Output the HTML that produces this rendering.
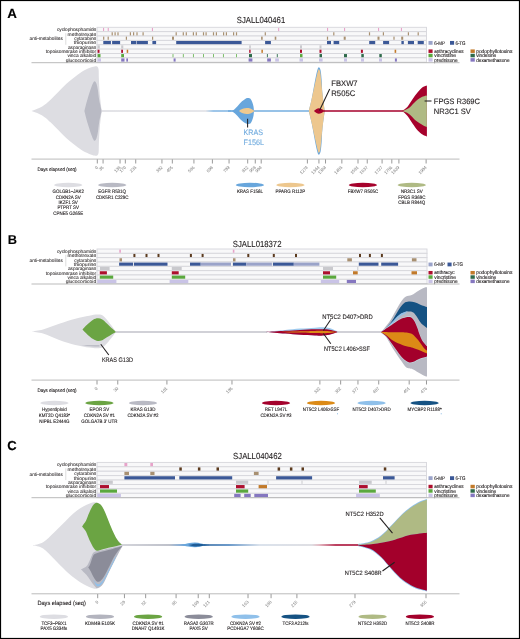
<!DOCTYPE html>
<html><head><meta charset="utf-8"><style>
html,body{margin:0;padding:0;background:#fff;width:520px;height:639px;overflow:hidden}
svg text{font-family:"Liberation Sans", sans-serif;text-rendering:geometricPrecision;stroke:currentColor;stroke-width:0.12px}
svg{will-change:transform}
</style></head><body>
<svg width="520" height="639" viewBox="0 0 520 639" style="display:block;font-family:&quot;Liberation Sans&quot;, sans-serif">
<rect x="0" y="0" width="520" height="639" fill="#fff"/>
<defs>
<linearGradient id="gA1" x1="0" x2="1" y1="0" y2="0"><stop offset="0" stop-color="#d4d4da"/><stop offset="0.8" stop-color="#d8d9df"/><stop offset="0.86" stop-color="#6ba8dd"/><stop offset="1" stop-color="#6ba8dd"/></linearGradient>
<linearGradient id="gA2" x1="0" x2="1" y1="0" y2="0"><stop offset="0" stop-color="#a6022c"/><stop offset="0.5" stop-color="#c23a5a"/><stop offset="1" stop-color="#a6022c"/></linearGradient>
<linearGradient id="gC1" x1="0" x2="1" y1="0" y2="0"><stop offset="0" stop-color="#c6c7cf"/><stop offset="0.2" stop-color="#a9adb9"/><stop offset="0.25" stop-color="#5d93cc"/><stop offset="0.36" stop-color="#2a64a0"/><stop offset="0.45" stop-color="#3a78b8"/><stop offset="0.58" stop-color="#cfd9e6"/><stop offset="0.8" stop-color="#d4d4da"/><stop offset="0.83" stop-color="#dca6b2"/><stop offset="0.9" stop-color="#a6022c"/><stop offset="1" stop-color="#a3002b"/></linearGradient>
</defs>
<text x="7.2" y="18.2" font-size="13.4" fill="#000" color="#000" font-weight="bold">A</text>
<text x="236.8" y="22.8" font-size="8.8" fill="#231f20" color="#231f20" textLength="48.4" lengthAdjust="spacingAndGlyphs">SJALL040461</text>
<rect x="97" y="27.3" width="329.5" height="4.36" fill="#f8f8f9" stroke="#d6d6db" stroke-width="0.9"/>
<rect x="97" y="31.66" width="329.5" height="4.36" fill="#f8f8f9" stroke="#d6d6db" stroke-width="0.9"/>
<rect x="97" y="36.02" width="329.5" height="4.36" fill="#f8f8f9" stroke="#d6d6db" stroke-width="0.9"/>
<rect x="97" y="40.38" width="329.5" height="4.36" fill="#f8f8f9" stroke="#d6d6db" stroke-width="0.9"/>
<rect x="97" y="44.74" width="329.5" height="4.36" fill="#f8f8f9" stroke="#d6d6db" stroke-width="0.9"/>
<rect x="97" y="49.1" width="329.5" height="4.36" fill="#f8f8f9" stroke="#d6d6db" stroke-width="0.9"/>
<rect x="97" y="53.46" width="329.5" height="4.36" fill="#f8f8f9" stroke="#d6d6db" stroke-width="0.9"/>
<rect x="97" y="57.82" width="329.5" height="4.36" fill="#f8f8f9" stroke="#d6d6db" stroke-width="0.9"/>
<rect x="103" y="27.9" width="1.1" height="3.16" fill="#e7a3c9"/>
<rect x="107.7" y="27.9" width="1.1" height="3.16" fill="#e7a3c9"/>
<rect x="151.9" y="27.9" width="1.1" height="3.16" fill="#e7a3c9"/>
<rect x="278.1" y="27.9" width="1.1" height="3.16" fill="#e7a3c9"/>
<rect x="327" y="27.9" width="1.1" height="3.16" fill="#e7a3c9"/>
<rect x="344" y="27.9" width="1.1" height="3.16" fill="#e7a3c9"/>
<rect x="378" y="27.9" width="1.1" height="3.16" fill="#e7a3c9"/>
<rect x="400.9" y="27.9" width="1.1" height="3.16" fill="#e7a3c9"/>
<rect x="111.6" y="32.26" width="1.2" height="3.16" fill="#a89071"/>
<rect x="114.5" y="32.26" width="1.2" height="3.16" fill="#a89071"/>
<rect x="117.4" y="32.26" width="1.2" height="3.16" fill="#a89071"/>
<rect x="129.8" y="32.26" width="1.2" height="3.16" fill="#a89071"/>
<rect x="133" y="32.26" width="1.2" height="3.16" fill="#a89071"/>
<rect x="136.4" y="32.26" width="1.2" height="3.16" fill="#a89071"/>
<rect x="142.5" y="32.26" width="1.2" height="3.16" fill="#a89071"/>
<rect x="175.6" y="32.26" width="1.2" height="3.16" fill="#a89071"/>
<rect x="182.7" y="32.26" width="1.2" height="3.16" fill="#a89071"/>
<rect x="185.7" y="32.26" width="1.2" height="3.16" fill="#a89071"/>
<rect x="192.8" y="32.26" width="1.2" height="3.16" fill="#a89071"/>
<rect x="195.7" y="32.26" width="1.2" height="3.16" fill="#a89071"/>
<rect x="202.9" y="32.26" width="1.2" height="3.16" fill="#a89071"/>
<rect x="205.5" y="32.26" width="1.2" height="3.16" fill="#a89071"/>
<rect x="212.9" y="32.26" width="1.2" height="3.16" fill="#a89071"/>
<rect x="215.8" y="32.26" width="1.2" height="3.16" fill="#a89071"/>
<rect x="223" y="32.26" width="1.2" height="3.16" fill="#a89071"/>
<rect x="225.8" y="32.26" width="1.2" height="3.16" fill="#a89071"/>
<rect x="233" y="32.26" width="1.2" height="3.16" fill="#a89071"/>
<rect x="235.9" y="32.26" width="1.2" height="3.16" fill="#a89071"/>
<rect x="264.7" y="32.26" width="1.2" height="3.16" fill="#a89071"/>
<rect x="333.2" y="32.26" width="1.2" height="3.16" fill="#a89071"/>
<rect x="368.9" y="32.26" width="1.2" height="3.16" fill="#a89071"/>
<rect x="382.8" y="32.26" width="1.2" height="3.16" fill="#a89071"/>
<rect x="407.8" y="32.26" width="1.2" height="3.16" fill="#a89071"/>
<rect x="417.6" y="32.26" width="1.2" height="3.16" fill="#a89071"/>
<rect x="103.1" y="36.62" width="1.2" height="3.16" fill="#a89071"/>
<rect x="107.6" y="36.62" width="1.2" height="3.16" fill="#a89071"/>
<rect x="125.8" y="36.62" width="1.2" height="3.16" fill="#a89071"/>
<rect x="152" y="36.62" width="1.2" height="3.16" fill="#a89071"/>
<rect x="172" y="36.62" width="2" height="3.16" fill="#a89071"/>
<rect x="261.1" y="36.62" width="1.6" height="3.16" fill="#a89071"/>
<rect x="274.7" y="36.62" width="1.6" height="3.16" fill="#a89071"/>
<rect x="326.9" y="36.62" width="1.2" height="3.16" fill="#a89071"/>
<rect x="343.7" y="36.62" width="2" height="3.16" fill="#a89071"/>
<rect x="377.5" y="36.62" width="2" height="3.16" fill="#a89071"/>
<rect x="393.4" y="36.62" width="1.2" height="3.16" fill="#a89071"/>
<rect x="401.2" y="36.62" width="2" height="3.16" fill="#a89071"/>
<rect x="103.3" y="40.98" width="7.6" height="3.16" fill="#3b5897"/>
<rect x="112.1" y="40.98" width="8" height="3.16" fill="#3b5897"/>
<rect x="131" y="40.98" width="5.3" height="3.16" fill="#3b5897"/>
<rect x="136.8" y="40.98" width="11.1" height="3.16" fill="#3b5897"/>
<rect x="152.4" y="40.98" width="3.7" height="3.16" fill="#3b5897"/>
<rect x="176.2" y="40.98" width="65.4" height="3.16" fill="#3b5897"/>
<rect x="265.1" y="40.98" width="5.8" height="3.16" fill="#3b5897"/>
<rect x="327" y="40.98" width="4" height="3.16" fill="#3b5897"/>
<rect x="333.6" y="40.98" width="5.6" height="3.16" fill="#3b5897"/>
<rect x="369.2" y="40.98" width="6" height="3.16" fill="#3b5897"/>
<rect x="383.1" y="40.98" width="6" height="3.16" fill="#3b5897"/>
<rect x="401.4" y="40.98" width="2.4" height="3.16" fill="#3b5897"/>
<rect x="407.9" y="40.98" width="6.1" height="3.16" fill="#3b5897"/>
<rect x="417.7" y="40.98" width="6.1" height="3.16" fill="#3b5897"/>
<rect x="97.6" y="45.34" width="2.2" height="3.16" fill="#c9c9cd"/>
<rect x="121.2" y="45.34" width="2.1" height="3.16" fill="#c9c9cd"/>
<rect x="249.2" y="45.34" width="1.6" height="3.16" fill="#c9c9cd"/>
<rect x="300" y="45.34" width="2" height="3.16" fill="#c9c9cd"/>
<rect x="319.5" y="45.34" width="2" height="3.16" fill="#c9c9cd"/>
<rect x="97.6" y="49.7" width="1.9" height="3.16" fill="#ad0f2e"/>
<rect x="121.2" y="49.7" width="1.8" height="3.16" fill="#ad0f2e"/>
<rect x="126.7" y="49.7" width="1.5" height="3.16" fill="#c27a2a"/>
<rect x="249.2" y="49.7" width="1.4" height="3.16" fill="#ad0f2e"/>
<rect x="261.4" y="49.7" width="1.5" height="3.16" fill="#c27a2a"/>
<rect x="300" y="49.7" width="2" height="3.16" fill="#ad0f2e"/>
<rect x="319.5" y="49.7" width="2" height="3.16" fill="#ad0f2e"/>
<rect x="360.9" y="49.7" width="2" height="3.16" fill="#ad0f2e"/>
<rect x="394.6" y="49.7" width="1.6" height="3.16" fill="#c27a2a"/>
<rect x="97.6" y="54.06" width="2.9" height="3.16" fill="#5aa83e"/>
<rect x="121.2" y="54.06" width="2.8" height="3.16" fill="#5aa83e"/>
<rect x="249" y="54.06" width="3" height="3.16" fill="#2e6a4a"/>
<rect x="300" y="54.06" width="2.5" height="3.16" fill="#5aa83e"/>
<rect x="319.5" y="54.06" width="2.5" height="3.16" fill="#2e6a4a"/>
<rect x="344" y="54.06" width="3" height="3.16" fill="#2e6a4a"/>
<rect x="361.3" y="54.06" width="2.5" height="3.16" fill="#2e6a4a"/>
<rect x="379.3" y="54.06" width="2.5" height="3.16" fill="#2e6a4a"/>
<rect x="172.55" y="54.06" width="0.9" height="3.16" fill="#6fb85a"/>
<rect x="182.85" y="54.06" width="0.9" height="3.16" fill="#6fb85a"/>
<rect x="192.95" y="54.06" width="0.9" height="3.16" fill="#6fb85a"/>
<rect x="203.05" y="54.06" width="0.9" height="3.16" fill="#6fb85a"/>
<rect x="213.05" y="54.06" width="0.9" height="3.16" fill="#6fb85a"/>
<rect x="222.95" y="54.06" width="0.9" height="3.16" fill="#6fb85a"/>
<rect x="236.05" y="54.06" width="0.9" height="3.16" fill="#6fb85a"/>
<rect x="266.9" y="54.06" width="1" height="3.16" fill="#3f7a5c"/>
<rect x="276.8" y="54.06" width="1" height="3.16" fill="#3f7a5c"/>
<rect x="97.6" y="58.42" width="3.4" height="3.16" fill="#c9c3e6"/>
<rect x="121.2" y="58.42" width="3.3" height="3.16" fill="#8577c0"/>
<rect x="126.3" y="58.42" width="1.7" height="3.16" fill="#8577c0"/>
<rect x="173.6" y="58.42" width="2" height="3.16" fill="#8577c0"/>
<rect x="248.6" y="58.42" width="3.8" height="3.16" fill="#8577c0"/>
<rect x="267.2" y="58.42" width="3.7" height="3.16" fill="#8577c0"/>
<rect x="275.2" y="58.42" width="3.7" height="3.16" fill="#c9c3e6"/>
<rect x="299.5" y="58.42" width="3.5" height="3.16" fill="#c9c3e6"/>
<rect x="319" y="58.42" width="3.6" height="3.16" fill="#c9c3e6"/>
<rect x="344" y="58.42" width="3" height="3.16" fill="#c9c3e6"/>
<rect x="361" y="58.42" width="3" height="3.16" fill="#c9c3e6"/>
<rect x="379" y="58.42" width="3" height="3.16" fill="#c9c3e6"/>
<rect x="394.9" y="58.42" width="2" height="3.16" fill="#8577c0"/>
<text x="96.2" y="31.23" font-size="4.9" fill="#231f20" color="#231f20" text-anchor="end" textLength="39.3" lengthAdjust="spacingAndGlyphs" style="stroke-width:0.06px">cyclophosphamide</text>
<text x="96.2" y="35.59" font-size="4.9" fill="#231f20" color="#231f20" text-anchor="end" textLength="28.6" lengthAdjust="spacingAndGlyphs" style="stroke-width:0.06px">methotrexate</text>
<text x="96.2" y="39.95" font-size="4.9" fill="#231f20" color="#231f20" text-anchor="end" textLength="21.9" lengthAdjust="spacingAndGlyphs" style="stroke-width:0.06px">cytarabine</text>
<text x="96.2" y="44.31" font-size="4.9" fill="#231f20" color="#231f20" text-anchor="end" textLength="22.4" lengthAdjust="spacingAndGlyphs" style="stroke-width:0.06px">thiopurine</text>
<text x="96.2" y="48.67" font-size="4.9" fill="#231f20" color="#231f20" text-anchor="end" textLength="28.2" lengthAdjust="spacingAndGlyphs" style="stroke-width:0.06px">asparaginase</text>
<text x="96.2" y="53.03" font-size="4.9" fill="#231f20" color="#231f20" text-anchor="end" textLength="50.5" lengthAdjust="spacingAndGlyphs" style="stroke-width:0.06px">topoisomerase inhibitor</text>
<text x="96.2" y="57.39" font-size="4.9" fill="#231f20" color="#231f20" text-anchor="end" textLength="28.8" lengthAdjust="spacingAndGlyphs" style="stroke-width:0.06px">vinca alkaloid</text>
<text x="96.2" y="61.75" font-size="4.9" fill="#231f20" color="#231f20" text-anchor="end" textLength="30.5" lengthAdjust="spacingAndGlyphs" style="stroke-width:0.06px">glucocorticoid</text>
<text x="29.6" y="40.39" font-size="4.9" fill="#231f20" color="#231f20" textLength="33.2" lengthAdjust="spacingAndGlyphs" style="stroke-width:0.06px">anti-metabolites</text>
<line x1="65.8" y1="33.19" x2="65.8" y2="44.74" stroke="#c4c4c4" stroke-width="0.6"/>
<rect x="428.5" y="40.96" width="4.1" height="3.8" fill="#9aa3c9"/>
<text x="434.2" y="44.66" font-size="5.2" fill="#231f20" color="#231f20" textLength="10.8" lengthAdjust="spacingAndGlyphs">6-MP</text>
<rect x="450" y="40.96" width="4.1" height="3.8" fill="#3b5897"/>
<text x="455.4" y="44.66" font-size="5.2" fill="#231f20" color="#231f20" textLength="10.2" lengthAdjust="spacingAndGlyphs">6-TG</text>
<rect x="428.5" y="49.43" width="4.1" height="3.5" fill="#ad0f2e"/>
<text x="434.2" y="52.88" font-size="5.2" fill="#231f20" color="#231f20" textLength="29.3" lengthAdjust="spacingAndGlyphs">anthracyclines</text>
<rect x="470.5" y="49.43" width="4.3" height="3.5" fill="#c27a2a"/>
<text x="476.2" y="52.88" font-size="5.2" fill="#231f20" color="#231f20" textLength="36.3" lengthAdjust="spacingAndGlyphs">podophyllotoxins</text>
<rect x="428.5" y="53.79" width="4.1" height="3.5" fill="#5aa83e"/>
<text x="434.2" y="57.24" font-size="5.2" fill="#231f20" color="#231f20" textLength="21.8" lengthAdjust="spacingAndGlyphs">vincristine</text>
<rect x="470.5" y="53.79" width="4.3" height="3.5" fill="#2e6a4a"/>
<text x="476.2" y="57.24" font-size="5.2" fill="#231f20" color="#231f20" textLength="20" lengthAdjust="spacingAndGlyphs">vindesine</text>
<rect x="428.5" y="58.15" width="4.1" height="3.5" fill="#c9c3e6"/>
<text x="434.2" y="61.6" font-size="5.2" fill="#231f20" color="#231f20" textLength="23.4" lengthAdjust="spacingAndGlyphs">prednisone</text>
<rect x="470.5" y="58.15" width="4.3" height="3.5" fill="#8577c0"/>
<text x="476.2" y="61.6" font-size="5.2" fill="#231f20" color="#231f20" textLength="33.3" lengthAdjust="spacingAndGlyphs">dexamethasone</text>
<line x1="31.5" y1="62.7" x2="459.5" y2="62.7" stroke="#b3b3b3" stroke-width="0.9"/>
<path d="M31.5,111 C32.78,110.52 36.95,109.17 39.2,108.1 C41.45,107.03 43.07,106.05 45,104.6 C46.93,103.15 48.55,101.55 50.8,99.4 C53.05,97.25 55.93,94.27 58.5,91.7 C61.07,89.13 63.65,86.33 66.2,84 C68.75,81.67 71.25,79.72 73.8,77.7 C76.35,75.68 78.93,73.5 81.5,71.9 C84.07,70.3 87.03,69.02 89.2,68.1 C91.37,67.18 93.17,66.67 94.5,66.4 C95.83,66.13 96.52,65.98 97.2,66.5 C97.88,67.02 98.32,67.38 98.6,69.5 C98.88,71.62 98.7,75.02 98.9,79.2 C99.1,83.38 99.33,89.3 99.8,94.6 C100.27,99.9 101.38,108.27 101.7,111 C101.38,113.73 100.27,122.1 99.8,127.4 C99.33,132.7 99.1,138.62 98.9,142.8 C98.7,146.98 98.88,150.38 98.6,152.5 C98.32,154.62 97.88,154.98 97.2,155.5 C96.52,156.02 95.83,155.87 94.5,155.6 C93.17,155.33 91.37,154.82 89.2,153.9 C87.03,152.98 84.07,151.7 81.5,150.1 C78.93,148.5 76.35,146.32 73.8,144.3 C71.25,142.28 68.75,140.33 66.2,138 C63.65,135.67 61.07,132.87 58.5,130.3 C55.93,127.73 53.05,124.75 50.8,122.6 C48.55,120.45 46.93,118.85 45,117.4 C43.07,115.95 41.45,114.97 39.2,113.9 C36.95,112.83 32.78,111.48 31.5,111 Z" fill="#dddde2"/>
<path d="M84.4,111 C84.67,109.92 85.45,106.58 86,104.5 C86.55,102.42 86.9,101.12 87.7,98.5 C88.5,95.88 89.9,91.37 90.8,88.8 C91.7,86.23 92.47,84.37 93.1,83.1 C93.73,81.83 94.05,81.13 94.6,81.2 C95.15,81.27 95.85,82.03 96.4,83.5 C96.95,84.97 97.43,87.25 97.9,90 C98.37,92.75 98.57,96.5 99.2,100 C99.83,103.5 101.28,109.17 101.7,111 C101.28,112.83 99.83,118.5 99.2,122 C98.57,125.5 98.37,129.25 97.9,132 C97.43,134.75 96.95,137.03 96.4,138.5 C95.85,139.97 95.15,140.73 94.6,140.8 C94.05,140.87 93.73,140.17 93.1,138.9 C92.47,137.63 91.7,135.77 90.8,133.2 C89.9,130.63 88.5,126.12 87.7,123.5 C86.9,120.88 86.55,119.58 86,117.5 C85.45,115.42 84.67,112.08 84.4,111 Z" fill="#b9bac4"/>
<rect x="101.5" y="110.35" width="130" height="1.3" fill="url(#gA1)"/>
<rect x="228" y="110.3" width="82" height="1.4" fill="#6ba8dd"/>
<path d="M231,111.1 C231.33,110.97 232.33,110.7 233,110.3 C233.67,109.9 234.25,109.38 235,108.7 C235.75,108.02 236.73,107.02 237.5,106.2 C238.27,105.38 238.85,104.62 239.6,103.8 C240.35,102.98 241.23,101.98 242,101.3 C242.77,100.62 243.53,100.17 244.2,99.7 C244.87,99.23 245.42,98.77 246,98.5 C246.58,98.23 247.12,98.13 247.7,98.1 C248.28,98.07 248.98,98.1 249.5,98.3 C250.02,98.5 250.33,98.65 250.8,99.3 C251.27,99.95 251.85,101 252.3,102.2 C252.75,103.4 253.22,105.02 253.5,106.5 C253.78,107.98 253.92,110.33 254,111.1 C253.92,111.88 253.78,114.32 253.5,115.8 C253.22,117.28 252.75,118.82 252.3,120 C251.85,121.18 251.27,122.27 250.8,122.9 C250.33,123.53 250.02,123.62 249.5,123.8 C248.98,123.98 248.28,124.05 247.7,124 C247.12,123.95 246.58,123.77 246,123.5 C245.42,123.23 244.87,122.87 244.2,122.4 C243.53,121.93 242.77,121.37 242,120.7 C241.23,120.03 240.35,119.18 239.6,118.4 C238.85,117.62 238.27,116.82 237.5,116 C236.73,115.18 235.75,114.18 235,113.5 C234.25,112.82 233.67,112.3 233,111.9 C232.33,111.5 231.33,111.23 231,111.1 Z" fill="#68a6dc"/>
<path d="M239,111 C239.33,110.77 240.25,110 241,109.6 C241.75,109.2 242.58,108.85 243.5,108.6 C244.42,108.35 245.5,108.15 246.5,108.1 C247.5,108.05 248.53,108.08 249.5,108.3 C250.47,108.52 251.48,108.95 252.3,109.4 C253.12,109.85 254.05,110.73 254.4,111 C254.05,111.27 253.12,112.15 252.3,112.6 C251.48,113.05 250.47,113.48 249.5,113.7 C248.53,113.92 247.5,113.95 246.5,113.9 C245.5,113.85 244.42,113.65 243.5,113.4 C242.58,113.15 241.75,112.8 241,112.4 C240.25,112 239.33,111.23 239,111 Z" fill="#efc98e"/>
<line x1="247.6" y1="118.8" x2="247.6" y2="127.5" stroke="#231f20" stroke-width="1.05"/>
<text x="243.6" y="135" font-size="7.9" fill="#72acdf" color="#72acdf" textLength="19.4" lengthAdjust="spacingAndGlyphs">KRAS</text>
<text x="243.6" y="144.8" font-size="7.9" fill="#72acdf" color="#72acdf" textLength="20.5" lengthAdjust="spacingAndGlyphs">F156L</text>
<path d="M308.8,111 C309.27,109.05 310.67,103.8 311.6,99.3 C312.53,94.8 313.52,88.58 314.4,84 C315.28,79.42 316.18,74.58 316.9,71.8 C317.62,69.02 318.08,67.52 318.7,67.3 C319.32,67.08 320.1,68.3 320.6,70.5 C321.1,72.7 321.4,76.75 321.7,80.5 C322,84.25 321.9,87.92 322.4,93 C322.9,98.08 324.32,108 324.7,111 C324.32,114 322.9,123.92 322.4,129 C321.9,134.08 322,137.75 321.7,141.5 C321.4,145.25 321.1,149.3 320.6,151.5 C320.1,153.7 319.32,154.92 318.7,154.7 C318.08,154.48 317.62,152.98 316.9,150.2 C316.18,147.42 315.28,142.58 314.4,138 C313.52,133.42 312.53,127.2 311.6,122.7 C310.67,118.2 309.27,112.95 308.8,111 Z" fill="#6ba8dd"/>
<path d="M308.8,111 C309.27,109.05 310.58,103.8 311.6,99.3 C312.62,94.8 313.93,88.38 314.9,84 C315.87,79.62 316.75,75.47 317.4,73 C318.05,70.53 318.33,69.37 318.8,69.2 C319.27,69.03 319.8,70.12 320.2,72 C320.6,73.88 320.83,77 321.2,80.5 C321.57,84 321.82,87.92 322.4,93 C322.98,98.08 324.32,108 324.7,111 C324.32,114 322.98,123.92 322.4,129 C321.82,134.08 321.57,138 321.2,141.5 C320.83,145 320.6,148.12 320.2,150 C319.8,151.88 319.27,152.97 318.8,152.8 C318.33,152.63 318.05,151.47 317.4,149 C316.75,146.53 315.87,142.38 314.9,138 C313.93,133.62 312.62,127.2 311.6,122.7 C310.58,118.2 309.27,112.95 308.8,111 Z" fill="#edc78e"/>
<path d="M314,111 C314.42,110.67 315.7,109.47 316.5,109 C317.3,108.53 317.97,108.2 318.8,108.2 C319.63,108.2 320.52,108.53 321.5,109 C322.48,109.47 324.17,110.67 324.7,111 C324.17,111.33 322.48,112.53 321.5,113 C320.52,113.47 319.63,113.8 318.8,113.8 C317.97,113.8 317.3,113.47 316.5,113 C315.7,112.53 314.42,111.33 314,111 Z" fill="#a6022c"/>
<rect x="324" y="110.25" width="80" height="1.5" fill="#a6022c"/>
<line x1="329.7" y1="89" x2="319.5" y2="110.5" stroke="#231f20" stroke-width="1.05"/>
<text x="331.3" y="86.3" font-size="8" fill="#231f20" color="#231f20" textLength="26.3" lengthAdjust="spacingAndGlyphs">FBXW7</text>
<text x="331.3" y="96" font-size="8" fill="#231f20" color="#231f20" textLength="24" lengthAdjust="spacingAndGlyphs">R505C</text>
<path d="M402.1,111 C402.97,110.33 405.57,108.97 407.3,107 C409.03,105.03 410.77,101.65 412.5,99.2 C414.23,96.75 415.97,94.32 417.7,92.3 C419.43,90.28 421.37,88.25 422.9,87.1 C424.43,85.95 426.23,85.68 426.9,85.4 L426.9,136.4  C426.23,136.12 424.43,135.7 422.9,134.7 C421.37,133.7 419.43,132.28 417.7,130.4 C415.97,128.52 414.23,125.85 412.5,123.4 C410.77,120.95 409.03,117.77 407.3,115.7 C405.57,113.63 402.97,111.78 402.1,111 Z" fill="#a6022c"/>
<path d="M402.1,111 C403.25,110.48 406.68,109.57 409,107.9 C411.32,106.23 413.68,102.88 416,101 C418.32,99.12 421.08,97.53 422.9,96.6 C424.72,95.67 426.23,95.6 426.9,95.4 L426.9,126.9  C426.23,126.62 424.72,126.22 422.9,125.2 C421.08,124.18 418.32,122.68 416,120.8 C413.68,118.92 411.32,115.53 409,113.9 C406.68,112.27 403.25,111.48 402.1,111 Z" fill="#afba84"/>
<line x1="424.6" y1="101" x2="431.5" y2="101" stroke="#231f20" stroke-width="1.05"/>
<text x="433.8" y="103.6" font-size="7.8" fill="#231f20" color="#231f20" textLength="46.2" lengthAdjust="spacingAndGlyphs">FPGS R369C</text>
<text x="433.8" y="113.5" font-size="7.8" fill="#231f20" color="#231f20" textLength="37" lengthAdjust="spacingAndGlyphs">NR3C1 SV</text>
<line x1="31.5" y1="159.1" x2="459.5" y2="159.1" stroke="#b3b3b3" stroke-width="0.9"/>
<line x1="97.3" y1="159.4" x2="97.3" y2="163.5" stroke="#7f7f7f" stroke-width="0.8"/>
<text x="98.2" y="167.7" font-size="4.3" fill="#8c8c8c" color="#8c8c8c" style="stroke-width:0.05px" text-anchor="end" transform="rotate(-45 98.2 167.7)">0</text>
<line x1="103.07" y1="159.4" x2="103.07" y2="163.5" stroke="#7f7f7f" stroke-width="0.8"/>
<text x="103.97" y="167.7" font-size="4.3" fill="#8c8c8c" color="#8c8c8c" style="stroke-width:0.05px" text-anchor="end" transform="rotate(-45 103.97 167.7)">35</text>
<line x1="120.06" y1="159.4" x2="120.06" y2="163.5" stroke="#7f7f7f" stroke-width="0.8"/>
<text x="120.96" y="167.7" font-size="4.3" fill="#8c8c8c" color="#8c8c8c" style="stroke-width:0.05px" text-anchor="end" transform="rotate(-45 120.96 167.7)">138</text>
<line x1="125.33" y1="159.4" x2="125.33" y2="163.5" stroke="#7f7f7f" stroke-width="0.8"/>
<text x="126.23" y="167.7" font-size="4.3" fill="#8c8c8c" color="#8c8c8c" style="stroke-width:0.05px" text-anchor="end" transform="rotate(-45 126.23 167.7)">170</text>
<line x1="135.72" y1="159.4" x2="135.72" y2="163.5" stroke="#7f7f7f" stroke-width="0.8"/>
<text x="136.62" y="167.7" font-size="4.3" fill="#8c8c8c" color="#8c8c8c" style="stroke-width:0.05px" text-anchor="end" transform="rotate(-45 136.62 167.7)">233</text>
<line x1="161.94" y1="159.4" x2="161.94" y2="163.5" stroke="#7f7f7f" stroke-width="0.8"/>
<text x="162.84" y="167.7" font-size="4.3" fill="#8c8c8c" color="#8c8c8c" style="stroke-width:0.05px" text-anchor="end" transform="rotate(-45 162.84 167.7)">392</text>
<line x1="172.33" y1="159.4" x2="172.33" y2="163.5" stroke="#7f7f7f" stroke-width="0.8"/>
<text x="173.23" y="167.7" font-size="4.3" fill="#8c8c8c" color="#8c8c8c" style="stroke-width:0.05px" text-anchor="end" transform="rotate(-45 173.23 167.7)">455</text>
<line x1="193.93" y1="159.4" x2="193.93" y2="163.5" stroke="#7f7f7f" stroke-width="0.8"/>
<text x="194.83" y="167.7" font-size="4.3" fill="#8c8c8c" color="#8c8c8c" style="stroke-width:0.05px" text-anchor="end" transform="rotate(-45 194.83 167.7)">586</text>
<line x1="212.4" y1="159.4" x2="212.4" y2="163.5" stroke="#7f7f7f" stroke-width="0.8"/>
<text x="213.3" y="167.7" font-size="4.3" fill="#8c8c8c" color="#8c8c8c" style="stroke-width:0.05px" text-anchor="end" transform="rotate(-45 213.3 167.7)">698</text>
<line x1="229.06" y1="159.4" x2="229.06" y2="163.5" stroke="#7f7f7f" stroke-width="0.8"/>
<text x="229.96" y="167.7" font-size="4.3" fill="#8c8c8c" color="#8c8c8c" style="stroke-width:0.05px" text-anchor="end" transform="rotate(-45 229.96 167.7)">799</text>
<line x1="247.69" y1="159.4" x2="247.69" y2="163.5" stroke="#7f7f7f" stroke-width="0.8"/>
<text x="248.59" y="167.7" font-size="4.3" fill="#8c8c8c" color="#8c8c8c" style="stroke-width:0.05px" text-anchor="end" transform="rotate(-45 248.59 167.7)">912</text>
<line x1="255.27" y1="159.4" x2="255.27" y2="163.5" stroke="#7f7f7f" stroke-width="0.8"/>
<text x="256.17" y="167.7" font-size="4.3" fill="#8c8c8c" color="#8c8c8c" style="stroke-width:0.05px" text-anchor="end" transform="rotate(-45 256.17 167.7)">958</text>
<line x1="261.21" y1="159.4" x2="261.21" y2="163.5" stroke="#7f7f7f" stroke-width="0.8"/>
<text x="262.11" y="167.7" font-size="4.3" fill="#8c8c8c" color="#8c8c8c" style="stroke-width:0.05px" text-anchor="end" transform="rotate(-45 262.11 167.7)">994</text>
<line x1="307.38" y1="159.4" x2="307.38" y2="163.5" stroke="#7f7f7f" stroke-width="0.8"/>
<text x="308.28" y="167.7" font-size="4.3" fill="#8c8c8c" color="#8c8c8c" style="stroke-width:0.05px" text-anchor="end" transform="rotate(-45 308.28 167.7)">1274</text>
<line x1="318.93" y1="159.4" x2="318.93" y2="163.5" stroke="#7f7f7f" stroke-width="0.8"/>
<text x="319.83" y="167.7" font-size="4.3" fill="#8c8c8c" color="#8c8c8c" style="stroke-width:0.05px" text-anchor="end" transform="rotate(-45 319.83 167.7)">1344</text>
<line x1="325.52" y1="159.4" x2="325.52" y2="163.5" stroke="#7f7f7f" stroke-width="0.8"/>
<text x="326.42" y="167.7" font-size="4.3" fill="#8c8c8c" color="#8c8c8c" style="stroke-width:0.05px" text-anchor="end" transform="rotate(-45 326.42 167.7)">1384</text>
<line x1="341.85" y1="159.4" x2="341.85" y2="163.5" stroke="#7f7f7f" stroke-width="0.8"/>
<text x="342.75" y="167.7" font-size="4.3" fill="#8c8c8c" color="#8c8c8c" style="stroke-width:0.05px" text-anchor="end" transform="rotate(-45 342.75 167.7)">1483</text>
<line x1="358.01" y1="159.4" x2="358.01" y2="163.5" stroke="#7f7f7f" stroke-width="0.8"/>
<text x="358.91" y="167.7" font-size="4.3" fill="#8c8c8c" color="#8c8c8c" style="stroke-width:0.05px" text-anchor="end" transform="rotate(-45 358.91 167.7)">1581</text>
<line x1="367.24" y1="159.4" x2="367.24" y2="163.5" stroke="#7f7f7f" stroke-width="0.8"/>
<text x="368.14" y="167.7" font-size="4.3" fill="#8c8c8c" color="#8c8c8c" style="stroke-width:0.05px" text-anchor="end" transform="rotate(-45 368.14 167.7)">1637</text>
<line x1="382.08" y1="159.4" x2="382.08" y2="163.5" stroke="#7f7f7f" stroke-width="0.8"/>
<text x="382.98" y="167.7" font-size="4.3" fill="#8c8c8c" color="#8c8c8c" style="stroke-width:0.05px" text-anchor="end" transform="rotate(-45 382.98 167.7)">1727</text>
<line x1="391.81" y1="159.4" x2="391.81" y2="163.5" stroke="#7f7f7f" stroke-width="0.8"/>
<text x="392.71" y="167.7" font-size="4.3" fill="#8c8c8c" color="#8c8c8c" style="stroke-width:0.05px" text-anchor="end" transform="rotate(-45 392.71 167.7)">1786</text>
<line x1="398.9" y1="159.4" x2="398.9" y2="163.5" stroke="#7f7f7f" stroke-width="0.8"/>
<text x="399.8" y="167.7" font-size="4.3" fill="#8c8c8c" color="#8c8c8c" style="stroke-width:0.05px" text-anchor="end" transform="rotate(-45 399.8 167.7)">1829</text>
<line x1="426.11" y1="159.4" x2="426.11" y2="163.5" stroke="#7f7f7f" stroke-width="0.8"/>
<text x="427.01" y="167.7" font-size="4.3" fill="#8c8c8c" color="#8c8c8c" style="stroke-width:0.05px" text-anchor="end" transform="rotate(-45 427.01 167.7)">1994</text>
<text x="37.4" y="171.3" font-size="4.97" fill="#231f20" color="#231f20" textLength="39.2" lengthAdjust="spacingAndGlyphs">Days elapsed (seq)</text>
<ellipse cx="68.2" cy="185" rx="14.1" ry="2.25" fill="#dddde2"/>
<text x="68.2" y="193.2" font-size="4.9" fill="#231f20" color="#231f20" text-anchor="middle" textLength="31.41" lengthAdjust="spacingAndGlyphs">GOLGB1–JAK2</text>
<text x="68.2" y="198.55" font-size="4.9" fill="#231f20" color="#231f20" text-anchor="middle" textLength="24.98" lengthAdjust="spacingAndGlyphs">CDKN2A SV</text>
<text x="68.2" y="203.9" font-size="4.9" fill="#231f20" color="#231f20" text-anchor="middle" textLength="19.29" lengthAdjust="spacingAndGlyphs">IKZF1 SV</text>
<text x="68.2" y="209.25" font-size="4.9" fill="#231f20" color="#231f20" text-anchor="middle" textLength="21.6" lengthAdjust="spacingAndGlyphs">PTPRT SV</text>
<text x="68.2" y="214.6" font-size="4.9" fill="#231f20" color="#231f20" text-anchor="middle" textLength="29.93" lengthAdjust="spacingAndGlyphs">CPNE5 G265E</text>
<ellipse cx="112.2" cy="185" rx="14.1" ry="2.25" fill="#b9bac4"/>
<text x="112.2" y="193.2" font-size="4.9" fill="#231f20" color="#231f20" text-anchor="middle" textLength="27.7" lengthAdjust="spacingAndGlyphs">EGFR R531Q</text>
<text x="112.2" y="198.55" font-size="4.9" fill="#231f20" color="#231f20" text-anchor="middle" textLength="32.65" lengthAdjust="spacingAndGlyphs">CDK5R1 C229C</text>
<ellipse cx="249.9" cy="185" rx="14.1" ry="2.25" fill="#68a6dc"/>
<text x="249.9" y="193.2" font-size="4.9" fill="#231f20" color="#231f20" text-anchor="middle" textLength="25.97" lengthAdjust="spacingAndGlyphs">KRAS F156L</text>
<ellipse cx="290.4" cy="185" rx="14.1" ry="2.25" fill="#edc78e"/>
<text x="290.4" y="193.2" font-size="4.9" fill="#231f20" color="#231f20" text-anchor="middle" textLength="29.76" lengthAdjust="spacingAndGlyphs">PPARG R112P</text>
<ellipse cx="362.9" cy="185" rx="14.1" ry="2.25" fill="#a6022c"/>
<text x="362.9" y="193.2" font-size="4.9" fill="#231f20" color="#231f20" text-anchor="middle" textLength="30.42" lengthAdjust="spacingAndGlyphs">FBXW7 R505C</text>
<ellipse cx="411.8" cy="185" rx="14.1" ry="2.25" fill="#afba84"/>
<text x="411.8" y="193.2" font-size="4.9" fill="#231f20" color="#231f20" text-anchor="middle" textLength="21.76" lengthAdjust="spacingAndGlyphs">NR3C1 SV</text>
<text x="411.8" y="198.55" font-size="4.9" fill="#231f20" color="#231f20" text-anchor="middle" textLength="27.2" lengthAdjust="spacingAndGlyphs">FPGS R369C</text>
<text x="411.8" y="203.9" font-size="4.9" fill="#231f20" color="#231f20" text-anchor="middle" textLength="26.96" lengthAdjust="spacingAndGlyphs">CBLB R844Q</text>
<text x="7.7" y="243.6" font-size="12.8" fill="#000" color="#000" font-weight="bold">B</text>
<text x="232.8" y="246.5" font-size="8.8" fill="#231f20" color="#231f20" textLength="48.7" lengthAdjust="spacingAndGlyphs">SJALL018372</text>
<rect x="97" y="249" width="330" height="4.33" fill="#f8f8f9" stroke="#d6d6db" stroke-width="0.9"/>
<rect x="97" y="253.33" width="330" height="4.33" fill="#f8f8f9" stroke="#d6d6db" stroke-width="0.9"/>
<rect x="97" y="257.66" width="330" height="4.33" fill="#f8f8f9" stroke="#d6d6db" stroke-width="0.9"/>
<rect x="97" y="261.99" width="330" height="4.33" fill="#f8f8f9" stroke="#d6d6db" stroke-width="0.9"/>
<rect x="97" y="266.32" width="330" height="4.33" fill="#f8f8f9" stroke="#d6d6db" stroke-width="0.9"/>
<rect x="97" y="270.65" width="330" height="4.33" fill="#f8f8f9" stroke="#d6d6db" stroke-width="0.9"/>
<rect x="97" y="274.98" width="330" height="4.33" fill="#f8f8f9" stroke="#d6d6db" stroke-width="0.9"/>
<rect x="97" y="279.31" width="330" height="4.33" fill="#f8f8f9" stroke="#d6d6db" stroke-width="0.9"/>
<rect x="119.3" y="249.6" width="1.6" height="3.13" fill="#e7a3c9"/>
<rect x="232.8" y="249.6" width="1.6" height="3.13" fill="#e7a3c9"/>
<rect x="133.4" y="253.93" width="2" height="3.13" fill="#5b3a1e"/>
<rect x="145.5" y="253.93" width="2" height="3.13" fill="#5b3a1e"/>
<rect x="157.5" y="253.93" width="2" height="3.13" fill="#5b3a1e"/>
<rect x="189.9" y="253.93" width="2" height="3.13" fill="#5b3a1e"/>
<rect x="201.6" y="253.93" width="2" height="3.13" fill="#5b3a1e"/>
<rect x="247.3" y="253.93" width="2" height="3.13" fill="#5b3a1e"/>
<rect x="272.8" y="253.93" width="2" height="3.13" fill="#5b3a1e"/>
<rect x="295" y="253.93" width="2" height="3.13" fill="#5b3a1e"/>
<rect x="359" y="253.93" width="2" height="3.13" fill="#5b3a1e"/>
<rect x="368.9" y="253.93" width="2" height="3.13" fill="#5b3a1e"/>
<rect x="380.9" y="253.93" width="2" height="3.13" fill="#5b3a1e"/>
<rect x="119.5" y="258.26" width="2.5" height="3.13" fill="#a89071"/>
<rect x="233" y="258.26" width="2.5" height="3.13" fill="#a89071"/>
<rect x="347.3" y="258.26" width="4.6" height="3.13" fill="#a89071"/>
<rect x="411.9" y="258.26" width="4.6" height="3.13" fill="#a89071"/>
<rect x="119.1" y="262.59" width="14" height="3.13" fill="#3b5897"/>
<rect x="134" y="262.59" width="33.5" height="3.13" fill="#3b5897"/>
<rect x="190" y="262.59" width="10.7" height="3.13" fill="#3b5897"/>
<rect x="200.7" y="262.59" width="30.3" height="3.13" fill="#9aa3c9"/>
<rect x="232.9" y="262.59" width="13.4" height="3.13" fill="#3b5897"/>
<rect x="246.3" y="262.59" width="25.6" height="3.13" fill="#9aa3c9"/>
<rect x="272.9" y="262.59" width="20.9" height="3.13" fill="#3b5897"/>
<rect x="293.8" y="262.59" width="25.6" height="3.13" fill="#9aa3c9"/>
<rect x="358.8" y="262.59" width="19.7" height="3.13" fill="#3b5897"/>
<rect x="381.2" y="262.59" width="16.9" height="3.13" fill="#3b5897"/>
<rect x="100" y="266.92" width="9.6" height="3.13" fill="#c9c9cd"/>
<rect x="171.8" y="266.92" width="9.9" height="3.13" fill="#c9c9cd"/>
<rect x="323" y="266.92" width="10" height="3.13" fill="#c9c9cd"/>
<rect x="357.3" y="266.92" width="1" height="3.13" fill="#c9c9cd"/>
<rect x="99.8" y="271.25" width="7.1" height="3.13" fill="#ad0f2e"/>
<rect x="171.8" y="271.25" width="6.9" height="3.13" fill="#ad0f2e"/>
<rect x="323" y="271.25" width="7" height="3.13" fill="#ad0f2e"/>
<rect x="353" y="271.25" width="4.7" height="3.13" fill="#c27a2a"/>
<rect x="411.5" y="271.25" width="5.5" height="3.13" fill="#c27a2a"/>
<rect x="99.8" y="275.58" width="13.4" height="3.13" fill="#5aa83e"/>
<rect x="171.8" y="275.58" width="13.4" height="3.13" fill="#5aa83e"/>
<rect x="323" y="275.58" width="13.2" height="3.13" fill="#5aa83e"/>
<rect x="97.3" y="279.91" width="19.1" height="3.13" fill="#c9c3e6"/>
<rect x="169.6" y="279.91" width="18.7" height="3.13" fill="#c9c3e6"/>
<rect x="320.8" y="279.91" width="18.4" height="3.13" fill="#c9c3e6"/>
<rect x="346.8" y="279.91" width="9.2" height="3.13" fill="#8577c0"/>
<text x="96.2" y="252.91" font-size="4.9" fill="#231f20" color="#231f20" text-anchor="end" textLength="39.3" lengthAdjust="spacingAndGlyphs" style="stroke-width:0.06px">cyclophosphamide</text>
<text x="96.2" y="257.25" font-size="4.9" fill="#231f20" color="#231f20" text-anchor="end" textLength="28.6" lengthAdjust="spacingAndGlyphs" style="stroke-width:0.06px">methotrexate</text>
<text x="96.2" y="261.58" font-size="4.9" fill="#231f20" color="#231f20" text-anchor="end" textLength="21.9" lengthAdjust="spacingAndGlyphs" style="stroke-width:0.06px">cytarabine</text>
<text x="96.2" y="265.91" font-size="4.9" fill="#231f20" color="#231f20" text-anchor="end" textLength="22.4" lengthAdjust="spacingAndGlyphs" style="stroke-width:0.06px">thiopurine</text>
<text x="96.2" y="270.24" font-size="4.9" fill="#231f20" color="#231f20" text-anchor="end" textLength="28.2" lengthAdjust="spacingAndGlyphs" style="stroke-width:0.06px">asparaginase</text>
<text x="96.2" y="274.56" font-size="4.9" fill="#231f20" color="#231f20" text-anchor="end" textLength="50.5" lengthAdjust="spacingAndGlyphs" style="stroke-width:0.06px">topoisomerase inhibitor</text>
<text x="96.2" y="278.9" font-size="4.9" fill="#231f20" color="#231f20" text-anchor="end" textLength="28.8" lengthAdjust="spacingAndGlyphs" style="stroke-width:0.06px">vinca alkaloid</text>
<text x="96.2" y="283.23" font-size="4.9" fill="#231f20" color="#231f20" text-anchor="end" textLength="30.5" lengthAdjust="spacingAndGlyphs" style="stroke-width:0.06px">glucocorticoid</text>
<text x="29.6" y="262.01" font-size="4.9" fill="#231f20" color="#231f20" textLength="33.2" lengthAdjust="spacingAndGlyphs" style="stroke-width:0.06px">anti-metabolites</text>
<line x1="65.8" y1="254.85" x2="65.8" y2="266.32" stroke="#c4c4c4" stroke-width="0.6"/>
<rect x="428.5" y="262.56" width="4.1" height="3.8" fill="#9aa3c9"/>
<text x="434.2" y="266.26" font-size="5.2" fill="#231f20" color="#231f20" textLength="10.8" lengthAdjust="spacingAndGlyphs">6-MP</text>
<rect x="447.5" y="262.56" width="4.1" height="3.8" fill="#3b5897"/>
<text x="452.9" y="266.26" font-size="5.2" fill="#231f20" color="#231f20" textLength="10.2" lengthAdjust="spacingAndGlyphs">6-TG</text>
<rect x="428.5" y="270.96" width="4.1" height="3.5" fill="#ad0f2e"/>
<text x="434.2" y="274.41" font-size="5.2" fill="#231f20" color="#231f20" textLength="20.5" lengthAdjust="spacingAndGlyphs">anthracyc</text>
<rect x="470.5" y="270.96" width="4.3" height="3.5" fill="#c27a2a"/>
<text x="476.2" y="274.41" font-size="5.2" fill="#231f20" color="#231f20" textLength="36.3" lengthAdjust="spacingAndGlyphs">podophyllotoxins</text>
<rect x="428.5" y="275.3" width="4.1" height="3.5" fill="#5aa83e"/>
<text x="434.2" y="278.75" font-size="5.2" fill="#231f20" color="#231f20" textLength="21.8" lengthAdjust="spacingAndGlyphs">vincristine</text>
<rect x="470.5" y="275.3" width="4.3" height="3.5" fill="#2e6a4a"/>
<text x="476.2" y="278.75" font-size="5.2" fill="#231f20" color="#231f20" textLength="20" lengthAdjust="spacingAndGlyphs">vindesine</text>
<rect x="428.5" y="279.62" width="4.1" height="3.5" fill="#c9c3e6"/>
<text x="434.2" y="283.07" font-size="5.2" fill="#231f20" color="#231f20" textLength="23.4" lengthAdjust="spacingAndGlyphs">prednisone</text>
<rect x="470.5" y="279.62" width="4.3" height="3.5" fill="#8577c0"/>
<text x="476.2" y="283.07" font-size="5.2" fill="#231f20" color="#231f20" textLength="33.3" lengthAdjust="spacingAndGlyphs">dexamethasone</text>
<line x1="31.5" y1="284" x2="459.5" y2="284" stroke="#b3b3b3" stroke-width="0.9"/>
<path d="M31.7,331.5 C33.58,331.18 38.42,330.88 43,329.6 C47.58,328.32 53.8,325.6 59.2,323.8 C64.6,322 70.4,320.13 75.4,318.8 C80.4,317.47 85.55,316.5 89.2,315.8 C92.85,315.1 95,314.6 97.3,314.6 C99.6,314.6 100.88,314.27 103,315.8 C105.12,317.33 107.9,321.2 110,323.8 C112.1,326.4 114.67,330.13 115.6,331.4 L115.6,332.6  C114.47,334.03 110.9,338.8 108.8,341.2 C106.7,343.6 104.92,345.82 103,347 C101.08,348.18 99.6,348.2 97.3,348.3 C95,348.4 92.85,348.15 89.2,347.6 C85.55,347.05 80.4,346.27 75.4,345 C70.4,343.73 64.6,341.9 59.2,340 C53.8,338.1 47.58,335.02 43,333.6 C38.42,332.18 33.58,331.85 31.7,331.5 Z" fill="#dddde2"/>
<path d="M80.8,345.6 C88,345.2 94,345 99.5,345.3 L99.5,346.6 C94,346.5 88,346.5 80.8,345.6 Z" fill="#b3b4be"/>
<path d="M82.5,329.5 C83.3,328.68 85.53,326.22 87.3,324.6 C89.07,322.98 91.37,320.85 93.1,319.8 C94.83,318.75 96.17,318.37 97.7,318.3 C99.23,318.23 100.77,318.53 102.3,319.4 C103.83,320.27 105.37,322.07 106.9,323.5 C108.43,324.93 109.95,326.6 111.5,328 C113.05,329.4 115.42,331.25 116.2,331.9 C115.42,332.32 113.05,333.5 111.5,334.4 C109.95,335.3 108.43,336.33 106.9,337.3 C105.37,338.27 103.83,339.58 102.3,340.2 C100.77,340.82 99.23,341.2 97.7,341 C96.17,340.8 94.83,340.1 93.1,339 C91.37,337.9 89.07,335.98 87.3,334.4 C85.53,332.82 83.3,330.32 82.5,329.5 Z" fill="#6ba443"/>
<rect x="115.5" y="331.2" width="152" height="1.6" fill="#c6c6ce"/>
<line x1="100.8" y1="344.2" x2="108.8" y2="355" stroke="#231f20" stroke-width="1.05"/>
<text x="101.9" y="362.2" font-size="6.6" fill="#231f20" color="#231f20" textLength="31.1" lengthAdjust="spacingAndGlyphs">KRAS G13D</text>
<path d="M266,332 C269.17,331.67 279.33,330.57 285,330 C290.67,329.43 295,328.98 300,328.6 C305,328.22 310.83,327.9 315,327.7 C319.17,327.5 322.33,327.28 325,327.4 C327.67,327.52 328.83,327.7 331,328.4 C333.17,329.1 336.83,331.07 338,331.6 L338,332  C336.83,332.38 333.33,333.7 331,334.3 C328.67,334.9 326.67,335.4 324,335.6 C321.33,335.8 319,335.63 315,335.5 C311,335.37 305,335.12 300,334.8 C295,334.48 290.67,334.07 285,333.6 C279.33,333.13 269.17,332.27 266,332 Z" fill="#9fcaee"/>
<path d="M266,332 C269.17,331.8 279.33,331.15 285,330.8 C290.67,330.45 295,330.15 300,329.9 C305,329.65 310.83,329.4 315,329.3 C319.17,329.2 322.33,329.17 325,329.3 C327.67,329.43 328.83,329.65 331,330.1 C333.17,330.55 336.83,331.68 338,332 C336.83,332.38 333.33,333.7 331,334.3 C328.67,334.9 326.67,335.4 324,335.6 C321.33,335.8 319,335.63 315,335.5 C311,335.37 305,335.12 300,334.8 C295,334.48 290.67,334.07 285,333.6 C279.33,333.13 269.17,332.27 266,332 Z" fill="#a3002b"/>
<path d="M275,332 C278.33,331.9 288.33,331.58 295,331.4 C301.67,331.22 310,330.98 315,330.9 C320,330.82 322,330.8 325,330.9 C328,331 331,331.32 333,331.5 C335,331.68 336.33,331.92 337,332 C336.33,332.08 335,332.3 333,332.5 C331,332.7 328,333.1 325,333.2 C322,333.3 320,333.2 315,333.1 C310,333 301.67,332.78 295,332.6 C288.33,332.42 278.33,332.1 275,332 Z" fill="#dc8a16"/>
<rect x="337" y="331.2" width="46" height="1.6" fill="#c6c6ce"/>
<line x1="330.8" y1="319.5" x2="323.4" y2="330.5" stroke="#231f20" stroke-width="1.05"/>
<line x1="323.4" y1="333.5" x2="330.8" y2="343.8" stroke="#231f20" stroke-width="1.05"/>
<text x="322.3" y="318.9" font-size="6.4" fill="#231f20" color="#231f20" textLength="50.4" lengthAdjust="spacingAndGlyphs">NT5C2 D407&gt;DRD</text>
<text x="324" y="350.8" font-size="6.4" fill="#231f20" color="#231f20" textLength="46" lengthAdjust="spacingAndGlyphs">NT5C2 L406&gt;SSF</text>
<path d="M381.2,332 C382.6,330.25 386.92,325.5 389.6,321.5 C392.28,317.5 395.22,311.53 397.3,308 C399.38,304.47 400.65,302.22 402.1,300.3 C403.55,298.38 404.4,297.37 406,296.5 C407.6,295.63 409.62,296.07 411.7,295.1 C413.78,294.13 416.42,291.93 418.5,290.7 C420.58,289.47 422.78,288.27 424.2,287.7 C425.62,287.13 426.53,287.37 427,287.3 L427,376.6  C426.35,376.37 424.62,375.93 423.1,375.2 C421.58,374.47 419.63,373.18 417.9,372.2 C416.17,371.22 414.15,369.95 412.7,369.3 C411.25,368.65 410.35,368.68 409.2,368.3 C408.05,367.92 407.23,368.37 405.8,367 C404.37,365.63 402.62,362.98 400.6,360.1 C398.58,357.22 396.15,353.6 393.7,349.7 C391.25,345.8 387.98,339.65 385.9,336.7 C383.82,333.75 381.98,332.78 381.2,332 Z" fill="#b8b9c3"/>
<path d="M382.9,331.1 C384.33,329.5 388.78,325.18 391.5,321.5 C394.22,317.82 397.12,312.05 399.2,309 C401.28,305.95 402.4,304.43 404,303.2 C405.6,301.97 407.03,301.75 408.8,301.6 C410.57,301.45 412.67,301.78 414.6,302.3 C416.53,302.82 418.33,303.9 420.4,304.7 C422.47,305.5 425.9,306.7 427,307.1 L427,327.9  C426.05,327.15 422.88,325.1 421.3,323.4 C419.72,321.7 418.77,319.47 417.5,317.7 C416.23,315.93 414.98,313.83 413.7,312.8 C412.42,311.77 411.25,311.63 409.8,311.5 C408.35,311.37 406.77,311.42 405,312 C403.23,312.58 401.45,313.2 399.2,315 C396.95,316.8 394.22,320.12 391.5,322.8 C388.78,325.48 384.33,329.72 382.9,331.1 Z" fill="#155283"/>
<path d="M382.5,331.6 C384,330.13 388.72,325.57 391.5,322.8 C394.28,320.03 396.95,316.8 399.2,315 C401.45,313.2 403.53,312.57 405,312 C406.47,311.43 407.5,311.67 408,311.6 C407.5,311.93 406.47,312.7 405,313.6 C403.53,314.5 401.45,315.17 399.2,317 C396.95,318.83 394.28,322.17 391.5,324.6 C388.72,327.03 384,330.43 382.5,331.6 Z" fill="#8fc0ea"/>
<path d="M381.2,331.3 C382.6,330.35 386.92,327.43 389.6,325.6 C392.28,323.77 395.05,321.67 397.3,320.3 C399.55,318.93 401.18,318.08 403.1,317.4 C405.02,316.72 407.37,316.27 408.8,316.2 C410.23,316.13 410.73,316.23 411.7,317 C412.67,317.77 413.63,319.05 414.6,320.8 C415.57,322.55 416.7,325.42 417.5,327.5 C418.3,329.58 418.57,331.17 419.4,333.3 C420.23,335.43 421.23,338.25 422.5,340.3 C423.77,342.35 426.25,344.72 427,345.6 L427,357.3  C425.77,357.67 421.85,358.63 419.6,359.5 C417.35,360.37 415.23,361.88 413.5,362.5 C411.77,363.12 410.63,363.48 409.2,363.2 C407.77,362.92 406.33,361.92 404.9,360.8 C403.47,359.68 402.47,358.82 400.6,356.5 C398.73,354.18 396.02,350.08 393.7,346.9 C391.38,343.72 388.78,339.73 386.7,337.4 C384.62,335.07 382.12,333.65 381.2,332.9 Z" fill="#c3d6e2"/>
<path d="M381.2,332 C382.6,331.05 386.92,328.13 389.6,326.3 C392.28,324.47 395.05,322.37 397.3,321 C399.55,319.63 401.18,318.78 403.1,318.1 C405.02,317.42 407.37,316.97 408.8,316.9 C410.23,316.83 410.73,316.93 411.7,317.7 C412.67,318.47 413.63,319.75 414.6,321.5 C415.57,323.25 416.7,326.12 417.5,328.2 C418.3,330.28 418.57,331.87 419.4,334 C420.23,336.13 421.23,338.95 422.5,341 C423.77,343.05 426.25,345.42 427,346.3 L427,356.6  C425.77,356.97 421.85,357.93 419.6,358.8 C417.35,359.67 415.23,361.18 413.5,361.8 C411.77,362.42 410.63,362.78 409.2,362.5 C407.77,362.22 406.33,361.22 404.9,360.1 C403.47,358.98 402.47,358.12 400.6,355.8 C398.73,353.48 396.02,349.38 393.7,346.2 C391.38,343.02 388.78,339.03 386.7,336.7 C384.62,334.37 382.12,332.95 381.2,332.2 Z" fill="#a3002b"/>
<path d="M381.2,332 C383.82,332.05 392.93,332.22 396.9,332.3 C400.87,332.38 402.82,332.35 405,332.5 C407.18,332.65 408.58,332.78 410,333.2 C411.42,333.62 411.9,333.55 413.5,335 C415.1,336.45 417.87,339.73 419.6,341.9 C421.33,344.07 422.67,346.55 423.9,348 C425.13,349.45 426.48,350.17 427,350.6 L427,353.6  C426.05,353.17 423.25,351.8 421.3,351 C419.35,350.2 417.17,349.45 415.3,348.8 C413.43,348.15 412.27,347.73 410.1,347.1 C407.93,346.47 405.03,346 402.3,345 C399.57,344 396.43,342.77 393.7,341.1 C390.97,339.43 387.98,336.48 385.9,335 C383.82,333.52 381.98,332.67 381.2,332.2 Z" fill="#dc8a16"/>
<line x1="31.5" y1="380.1" x2="459.5" y2="380.1" stroke="#b3b3b3" stroke-width="0.9"/>
<line x1="97" y1="380.4" x2="97" y2="384.5" stroke="#7f7f7f" stroke-width="0.8"/>
<text x="97.9" y="388.7" font-size="4.3" fill="#8c8c8c" color="#8c8c8c" style="stroke-width:0.05px" text-anchor="end" transform="rotate(-45 97.9 388.7)">0</text>
<line x1="117.77" y1="380.4" x2="117.77" y2="384.5" stroke="#7f7f7f" stroke-width="0.8"/>
<text x="118.67" y="388.7" font-size="4.3" fill="#8c8c8c" color="#8c8c8c" style="stroke-width:0.05px" text-anchor="end" transform="rotate(-45 118.67 388.7)">30</text>
<line x1="166.91" y1="380.4" x2="166.91" y2="384.5" stroke="#7f7f7f" stroke-width="0.8"/>
<text x="167.81" y="388.7" font-size="4.3" fill="#8c8c8c" color="#8c8c8c" style="stroke-width:0.05px" text-anchor="end" transform="rotate(-45 167.81 388.7)">101</text>
<line x1="231.98" y1="380.4" x2="231.98" y2="384.5" stroke="#7f7f7f" stroke-width="0.8"/>
<text x="232.88" y="388.7" font-size="4.3" fill="#8c8c8c" color="#8c8c8c" style="stroke-width:0.05px" text-anchor="end" transform="rotate(-45 232.88 388.7)">195</text>
<line x1="319.89" y1="380.4" x2="319.89" y2="384.5" stroke="#7f7f7f" stroke-width="0.8"/>
<text x="320.79" y="388.7" font-size="4.3" fill="#8c8c8c" color="#8c8c8c" style="stroke-width:0.05px" text-anchor="end" transform="rotate(-45 320.79 388.7)">322</text>
<line x1="340.65" y1="380.4" x2="340.65" y2="384.5" stroke="#7f7f7f" stroke-width="0.8"/>
<text x="341.55" y="388.7" font-size="4.3" fill="#8c8c8c" color="#8c8c8c" style="stroke-width:0.05px" text-anchor="end" transform="rotate(-45 341.55 388.7)">352</text>
<line x1="357.96" y1="380.4" x2="357.96" y2="384.5" stroke="#7f7f7f" stroke-width="0.8"/>
<text x="358.86" y="388.7" font-size="4.3" fill="#8c8c8c" color="#8c8c8c" style="stroke-width:0.05px" text-anchor="end" transform="rotate(-45 358.86 388.7)">377</text>
<line x1="378.73" y1="380.4" x2="378.73" y2="384.5" stroke="#7f7f7f" stroke-width="0.8"/>
<text x="379.63" y="388.7" font-size="4.3" fill="#8c8c8c" color="#8c8c8c" style="stroke-width:0.05px" text-anchor="end" transform="rotate(-45 379.63 388.7)">407</text>
<line x1="409.18" y1="380.4" x2="409.18" y2="384.5" stroke="#7f7f7f" stroke-width="0.8"/>
<text x="410.08" y="388.7" font-size="4.3" fill="#8c8c8c" color="#8c8c8c" style="stroke-width:0.05px" text-anchor="end" transform="rotate(-45 410.08 388.7)">451</text>
<line x1="426.49" y1="380.4" x2="426.49" y2="384.5" stroke="#7f7f7f" stroke-width="0.8"/>
<text x="427.39" y="388.7" font-size="4.3" fill="#8c8c8c" color="#8c8c8c" style="stroke-width:0.05px" text-anchor="end" transform="rotate(-45 427.39 388.7)">476</text>
<text x="37.4" y="391.5" font-size="4.97" fill="#231f20" color="#231f20" textLength="39.2" lengthAdjust="spacingAndGlyphs">Days elapsed (seq)</text>
<ellipse cx="54.4" cy="403" rx="14.1" ry="2.25" fill="#dddde2"/>
<text x="54.4" y="411.1" font-size="4.9" fill="#231f20" color="#231f20" text-anchor="middle" textLength="24.73" lengthAdjust="spacingAndGlyphs">Hyperdiploid</text>
<text x="54.4" y="416.95" font-size="4.9" fill="#231f20" color="#231f20" text-anchor="middle" textLength="31.41" lengthAdjust="spacingAndGlyphs">KMT2D Q4183*</text>
<text x="54.4" y="422.8" font-size="4.9" fill="#231f20" color="#231f20" text-anchor="middle" textLength="30.26" lengthAdjust="spacingAndGlyphs">NIPBL E2444G</text>
<ellipse cx="99.4" cy="403" rx="14.1" ry="2.25" fill="#6ba443"/>
<text x="99.4" y="411.1" font-size="4.9" fill="#231f20" color="#231f20" text-anchor="middle" textLength="19.78" lengthAdjust="spacingAndGlyphs">EPOR SV</text>
<text x="99.4" y="416.95" font-size="4.9" fill="#231f20" color="#231f20" text-anchor="middle" textLength="31.17" lengthAdjust="spacingAndGlyphs">CDKN2A SV #1</text>
<text x="99.4" y="422.8" font-size="4.9" fill="#231f20" color="#231f20" text-anchor="middle" textLength="36.21" lengthAdjust="spacingAndGlyphs">GOLGA7B 3' UTR</text>
<ellipse cx="143" cy="403" rx="14.1" ry="2.25" fill="#b9bac4"/>
<text x="143" y="411.1" font-size="4.9" fill="#231f20" color="#231f20" text-anchor="middle" textLength="24.98" lengthAdjust="spacingAndGlyphs">KRAS G13D</text>
<text x="143" y="416.95" font-size="4.9" fill="#231f20" color="#231f20" text-anchor="middle" textLength="31.17" lengthAdjust="spacingAndGlyphs">CDKN2A SV #2</text>
<ellipse cx="276" cy="403" rx="14.1" ry="2.25" fill="#a3002b"/>
<text x="276" y="411.1" font-size="4.9" fill="#231f20" color="#231f20" text-anchor="middle" textLength="22.43" lengthAdjust="spacingAndGlyphs">RET L947L</text>
<text x="276" y="416.95" font-size="4.9" fill="#231f20" color="#231f20" text-anchor="middle" textLength="31.17" lengthAdjust="spacingAndGlyphs">CDKN2A SV #3</text>
<ellipse cx="321" cy="403" rx="14.1" ry="2.25" fill="#dc8a16"/>
<text x="321" y="411.1" font-size="4.9" fill="#231f20" color="#231f20" text-anchor="middle" textLength="36.48" lengthAdjust="spacingAndGlyphs">NT5C2 L406&gt;SSF</text>
<ellipse cx="371.6" cy="403" rx="14.1" ry="2.25" fill="#8fc0ea"/>
<text x="371.6" y="411.1" font-size="4.9" fill="#231f20" color="#231f20" text-anchor="middle" textLength="38.21" lengthAdjust="spacingAndGlyphs">NT5C2 D407&gt;DRD</text>
<ellipse cx="424.6" cy="403" rx="14.1" ry="2.25" fill="#155283"/>
<text x="424.6" y="411.1" font-size="4.9" fill="#231f20" color="#231f20" text-anchor="middle" textLength="34.05" lengthAdjust="spacingAndGlyphs">MYCBP2 R1188*</text>
<circle cx="337.5" cy="413.8" r="0.5" fill="#68a6dc"/>
<circle cx="441.2" cy="413.8" r="0.5" fill="#68a6dc"/>
<text x="7.3" y="450.1" font-size="13" fill="#000" color="#000" font-weight="bold">C</text>
<text x="233.1" y="459" font-size="8.8" fill="#231f20" color="#231f20" textLength="48.7" lengthAdjust="spacingAndGlyphs">SJALL040462</text>
<rect x="97" y="462.4" width="329.5" height="4.41" fill="#f8f8f9" stroke="#d6d6db" stroke-width="0.9"/>
<rect x="97" y="466.81" width="329.5" height="4.41" fill="#f8f8f9" stroke="#d6d6db" stroke-width="0.9"/>
<rect x="97" y="471.22" width="329.5" height="4.41" fill="#f8f8f9" stroke="#d6d6db" stroke-width="0.9"/>
<rect x="97" y="475.63" width="329.5" height="4.41" fill="#f8f8f9" stroke="#d6d6db" stroke-width="0.9"/>
<rect x="97" y="480.04" width="329.5" height="4.41" fill="#f8f8f9" stroke="#d6d6db" stroke-width="0.9"/>
<rect x="97" y="484.45" width="329.5" height="4.41" fill="#f8f8f9" stroke="#d6d6db" stroke-width="0.9"/>
<rect x="97" y="488.86" width="329.5" height="4.41" fill="#f8f8f9" stroke="#d6d6db" stroke-width="0.9"/>
<rect x="97" y="493.27" width="329.5" height="4.41" fill="#f8f8f9" stroke="#d6d6db" stroke-width="0.9"/>
<rect x="124.4" y="463" width="2.9" height="3.21" fill="#e7a3c9"/>
<rect x="150.3" y="463" width="2.7" height="3.21" fill="#e7a3c9"/>
<rect x="179.3" y="467.41" width="2.5" height="3.21" fill="#5b3a1e"/>
<rect x="197.9" y="467.41" width="2.5" height="3.21" fill="#5b3a1e"/>
<rect x="216.5" y="467.41" width="2.5" height="3.21" fill="#5b3a1e"/>
<rect x="277.6" y="467.41" width="2.5" height="3.21" fill="#5b3a1e"/>
<rect x="289.9" y="467.41" width="2.5" height="3.21" fill="#5b3a1e"/>
<rect x="301.5" y="467.41" width="2.5" height="3.21" fill="#5b3a1e"/>
<rect x="383.8" y="467.41" width="2.5" height="3.21" fill="#5b3a1e"/>
<rect x="124.4" y="471.82" width="4.6" height="3.21" fill="#a89071"/>
<rect x="150.3" y="471.82" width="4.2" height="3.21" fill="#a89071"/>
<rect x="253.9" y="471.82" width="4.7" height="3.21" fill="#a89071"/>
<rect x="124.4" y="476.23" width="50.6" height="3.21" fill="#3b5897"/>
<rect x="179.3" y="476.23" width="52.9" height="3.21" fill="#3b5897"/>
<rect x="276.1" y="476.23" width="36" height="3.21" fill="#3b5897"/>
<rect x="383" y="476.23" width="11.6" height="3.21" fill="#3b5897"/>
<rect x="100" y="480.64" width="12.8" height="3.21" fill="#c9c9cd"/>
<rect x="236" y="480.64" width="12.2" height="3.21" fill="#c9c9cd"/>
<rect x="267.5" y="480.64" width="1" height="3.21" fill="#c9c9cd"/>
<rect x="301.5" y="480.64" width="1" height="3.21" fill="#c9c9cd"/>
<rect x="359" y="480.64" width="12.7" height="3.21" fill="#c9c9cd"/>
<rect x="385.5" y="480.64" width="1" height="3.21" fill="#c9c9cd"/>
<rect x="100" y="485.05" width="9" height="3.21" fill="#ad0f2e"/>
<rect x="236" y="485.05" width="8.6" height="3.21" fill="#ad0f2e"/>
<rect x="258.6" y="485.05" width="8.4" height="3.21" fill="#c27a2a"/>
<rect x="359" y="485.05" width="8.7" height="3.21" fill="#ad0f2e"/>
<rect x="100" y="489.46" width="17" height="3.21" fill="#5aa83e"/>
<rect x="236" y="489.46" width="12.2" height="3.21" fill="#5aa83e"/>
<rect x="359" y="489.46" width="16.8" height="3.21" fill="#5aa83e"/>
<rect x="97.3" y="493.87" width="23.6" height="3.21" fill="#c9c3e6"/>
<rect x="234.2" y="493.87" width="6.4" height="3.21" fill="#8577c0"/>
<rect x="244.2" y="493.87" width="6.5" height="3.21" fill="#8577c0"/>
<rect x="254.3" y="493.87" width="13.7" height="3.21" fill="#8577c0"/>
<rect x="356.1" y="493.87" width="23.7" height="3.21" fill="#c9c3e6"/>
<text x="96.2" y="466.35" font-size="4.9" fill="#231f20" color="#231f20" text-anchor="end" textLength="39.3" lengthAdjust="spacingAndGlyphs" style="stroke-width:0.06px">cyclophosphamide</text>
<text x="96.2" y="470.76" font-size="4.9" fill="#231f20" color="#231f20" text-anchor="end" textLength="28.6" lengthAdjust="spacingAndGlyphs" style="stroke-width:0.06px">methotrexate</text>
<text x="96.2" y="475.17" font-size="4.9" fill="#231f20" color="#231f20" text-anchor="end" textLength="21.9" lengthAdjust="spacingAndGlyphs" style="stroke-width:0.06px">cytarabine</text>
<text x="96.2" y="479.58" font-size="4.9" fill="#231f20" color="#231f20" text-anchor="end" textLength="22.4" lengthAdjust="spacingAndGlyphs" style="stroke-width:0.06px">thiopurine</text>
<text x="96.2" y="483.99" font-size="4.9" fill="#231f20" color="#231f20" text-anchor="end" textLength="28.2" lengthAdjust="spacingAndGlyphs" style="stroke-width:0.06px">asparaginase</text>
<text x="96.2" y="488.4" font-size="4.9" fill="#231f20" color="#231f20" text-anchor="end" textLength="50.5" lengthAdjust="spacingAndGlyphs" style="stroke-width:0.06px">topoisomerase inhibitor</text>
<text x="96.2" y="492.81" font-size="4.9" fill="#231f20" color="#231f20" text-anchor="end" textLength="28.8" lengthAdjust="spacingAndGlyphs" style="stroke-width:0.06px">vinca alkaloid</text>
<text x="96.2" y="497.22" font-size="4.9" fill="#231f20" color="#231f20" text-anchor="end" textLength="30.5" lengthAdjust="spacingAndGlyphs" style="stroke-width:0.06px">glucocorticoid</text>
<text x="29.6" y="475.62" font-size="4.9" fill="#231f20" color="#231f20" textLength="33.2" lengthAdjust="spacingAndGlyphs" style="stroke-width:0.06px">anti-metabolites</text>
<line x1="65.8" y1="468.35" x2="65.8" y2="480.04" stroke="#c4c4c4" stroke-width="0.6"/>
<rect x="428.5" y="476.24" width="4.1" height="3.8" fill="#9aa3c9"/>
<text x="434.2" y="479.94" font-size="5.2" fill="#231f20" color="#231f20" textLength="10.8" lengthAdjust="spacingAndGlyphs">6-MP</text>
<rect x="450" y="476.24" width="4.1" height="3.8" fill="#3b5897"/>
<text x="455.4" y="479.94" font-size="5.2" fill="#231f20" color="#231f20" textLength="10.2" lengthAdjust="spacingAndGlyphs">6-TG</text>
<rect x="428.5" y="484.8" width="4.1" height="3.5" fill="#ad0f2e"/>
<text x="434.2" y="488.25" font-size="5.2" fill="#231f20" color="#231f20" textLength="29.3" lengthAdjust="spacingAndGlyphs">anthracyclines</text>
<rect x="470.5" y="484.8" width="4.3" height="3.5" fill="#c27a2a"/>
<text x="476.2" y="488.25" font-size="5.2" fill="#231f20" color="#231f20" textLength="36.3" lengthAdjust="spacingAndGlyphs">podophyllotoxins</text>
<rect x="428.5" y="489.21" width="4.1" height="3.5" fill="#5aa83e"/>
<text x="434.2" y="492.66" font-size="5.2" fill="#231f20" color="#231f20" textLength="21.8" lengthAdjust="spacingAndGlyphs">vincristine</text>
<rect x="470.5" y="489.21" width="4.3" height="3.5" fill="#2e6a4a"/>
<text x="476.2" y="492.66" font-size="5.2" fill="#231f20" color="#231f20" textLength="20" lengthAdjust="spacingAndGlyphs">vindesine</text>
<rect x="428.5" y="493.62" width="4.1" height="3.5" fill="#c9c3e6"/>
<text x="434.2" y="497.07" font-size="5.2" fill="#231f20" color="#231f20" textLength="23.4" lengthAdjust="spacingAndGlyphs">prednisone</text>
<rect x="470.5" y="493.62" width="4.3" height="3.5" fill="#8577c0"/>
<text x="476.2" y="497.07" font-size="5.2" fill="#231f20" color="#231f20" textLength="33.3" lengthAdjust="spacingAndGlyphs">dexamethasone</text>
<line x1="31.5" y1="497.7" x2="459.5" y2="497.7" stroke="#b3b3b3" stroke-width="0.9"/>
<path d="M32.7,545.3 C34.43,544.8 39.45,544.53 43.1,542.3 C46.75,540.07 50.75,535.55 54.6,531.9 C58.45,528.25 62.35,524.05 66.2,520.4 C70.05,516.75 73.87,512.77 77.7,510 C81.53,507.23 86.05,505.05 89.2,503.8 C92.35,502.55 94.58,502.13 96.6,502.5 C98.62,502.87 99.73,503.87 101.3,506 C102.87,508.13 104.43,511.65 106,515.3 C107.57,518.95 109.13,524.23 110.7,527.9 C112.27,531.57 113.45,534.48 115.4,537.3 C117.35,540.12 121.23,543.55 122.4,544.8 L122.4,545.6  C120.72,548.7 115.53,558.02 112.3,564.2 C109.07,570.38 105.5,578.63 103,582.7 C100.5,586.77 99.6,587.9 97.3,588.6 C95,589.3 92.47,588.27 89.2,586.9 C85.93,585.53 81.53,583.02 77.7,580.4 C73.87,577.78 70.05,574.67 66.2,571.2 C62.35,567.73 58.45,563.38 54.6,559.6 C50.75,555.82 46.75,550.88 43.1,548.5 C39.45,546.12 34.43,545.83 32.7,545.3 Z" fill="#dddde2"/>
<path d="M82.1,526.5 C82.43,526.02 83.43,524.62 84.1,523.6 C84.77,522.58 85.48,521.62 86.1,520.4 C86.72,519.18 87.12,517.93 87.8,516.3 C88.48,514.67 89.38,512.37 90.2,510.6 C91.02,508.83 91.88,506.92 92.7,505.7 C93.52,504.48 94.28,503.77 95.1,503.3 C95.92,502.83 96.62,502.63 97.6,502.9 C98.58,503.17 99.97,503.8 101,504.9 C102.03,506 102.85,507.6 103.8,509.5 C104.75,511.4 105.57,513.57 106.7,516.3 C107.83,519.03 109.32,522.87 110.6,525.9 C111.88,528.93 113.12,531.93 114.4,534.5 C115.68,537.07 116.98,539.58 118.3,541.3 C119.62,543.02 121.63,544.22 122.3,544.8 C120.83,545.13 116.58,546.1 113.5,546.8 C110.42,547.5 106.38,548.33 103.8,549 C101.22,549.67 99.45,550.68 98,550.8 C96.55,550.92 95.98,550.42 95.1,549.7 C94.22,548.98 93.52,547.85 92.7,546.5 C91.88,545.15 91.02,543.37 90.2,541.6 C89.38,539.83 88.48,537.53 87.8,535.9 C87.12,534.27 86.72,532.97 86.1,531.8 C85.48,530.63 84.77,529.78 84.1,528.9 C83.43,528.02 82.43,526.9 82.1,526.5 Z" fill="#6ba443"/>
<path d="M81,569.3 C81.52,569.05 83.07,568.45 84.1,567.8 C85.13,567.15 86.28,566.58 87.2,565.4 C88.12,564.22 88.82,562.4 89.6,560.7 C90.38,559 91.12,556.63 91.9,555.2 C92.68,553.77 92.95,552.87 94.3,552.1 C95.65,551.33 97.53,551.22 100,550.6 C102.47,549.98 105.37,549.27 109.1,548.4 C112.83,547.53 120.18,545.9 122.4,545.4 L122.4,545.9  C121.23,548.12 117.62,554.9 115.4,559.2 C113.18,563.5 111.18,567.53 109.1,571.7 C107.02,575.87 104.85,581.47 102.9,584.2 C100.95,586.93 98.83,587.83 97.4,588.1 C95.97,588.37 95.48,587.1 94.3,585.8 C93.12,584.5 91.62,582.13 90.3,580.3 C88.98,578.47 87.57,576.23 86.4,574.8 C85.23,573.37 84.2,572.62 83.3,571.7 C82.4,570.78 81.38,569.7 81,569.3 Z" fill="#b9bac4"/>
<path d="M93.2,579.5 C93.75,580.17 95.47,582.77 96.5,583.5 C97.53,584.23 98.43,584.27 99.4,583.9 C100.37,583.53 101.33,582.5 102.3,581.3 C103.27,580.1 104.23,578.42 105.2,576.7 C106.17,574.98 107.13,572.92 108.1,571 C109.07,569.08 110.02,567.15 111,565.2 C111.98,563.25 113,561.08 114,559.3 C115,557.52 116.5,555.3 117,554.5 C116.5,555.63 115,559.17 114,561.3 C113,563.43 111.98,565.33 111,567.3 C110.02,569.27 109.07,571.18 108.1,573.1 C107.13,575.02 106.17,577.08 105.2,578.8 C104.23,580.52 103.27,582.2 102.3,583.4 C101.33,584.6 100.37,585.62 99.4,586 C98.43,586.38 97.53,586.78 96.5,585.7 C95.47,584.62 93.75,580.53 93.2,579.5 Z" fill="#8fc0ea"/>
<path d="M88.2,567.2 C88.43,566.9 89.12,566.35 89.6,565.4 C90.08,564.45 90.58,562.93 91.1,561.5 C91.62,560.07 92.17,558.02 92.7,556.8 C93.23,555.58 93.52,554.85 94.3,554.2 C95.08,553.55 94.93,553.63 97.4,552.9 C99.87,552.17 104.93,550.97 109.1,549.8 C113.27,548.63 120.18,546.55 122.4,545.9 C121.67,546.75 119.4,549.15 118,551 C116.6,552.85 115.17,555.02 114,557 C112.83,558.98 111.98,560.95 111,562.9 C110.02,564.85 109.07,566.78 108.1,568.7 C107.13,570.62 106.17,572.68 105.2,574.4 C104.23,576.12 103.27,577.8 102.3,579 C101.33,580.2 100.37,581.22 99.4,581.6 C98.43,581.98 97.45,582.02 96.5,581.3 C95.55,580.58 94.65,578.93 93.7,577.3 C92.75,575.67 91.72,573.18 90.8,571.5 C89.88,569.82 88.63,567.92 88.2,567.2 Z" fill="#8b8c99"/>
<rect x="121.5" y="544.25" width="238" height="1.5" fill="url(#gC1)"/>
<path d="M181,545 C182.17,544.72 185.67,543.7 188,543.3 C190.33,542.9 192.83,542.57 195,542.6 C197.17,542.63 199.17,543.1 201,543.5 C202.83,543.9 205.17,544.75 206,545 C205.17,545.23 202.83,546.02 201,546.4 C199.17,546.78 197.17,547.27 195,547.3 C192.83,547.33 190.33,546.98 188,546.6 C185.67,546.22 182.17,545.27 181,545 Z" fill="#68a6dc"/>
<path d="M188,545 C189.17,544.78 192.83,543.87 195,543.7 C197.17,543.53 198.5,543.78 201,544 C203.5,544.22 208.5,544.83 210,545 C208.5,545.18 203.5,545.87 201,546.1 C198.5,546.33 197.17,546.58 195,546.4 C192.83,546.22 189.17,545.23 188,545 Z" fill="#1f5c97"/>
<path d="M358.3,543.9 C360.32,543.48 366.58,542.83 370.4,541.4 C374.22,539.97 377.62,538.08 381.2,535.3 C384.78,532.52 388.32,528.35 391.9,524.7 C395.48,521.05 399.1,516.67 402.7,513.4 C406.3,510.13 410.37,507.2 413.5,505.1 C416.63,503 419.27,501.83 421.5,500.8 C423.73,499.77 426,499.22 426.9,498.9 L426.9,591.5  C426,591.27 423.73,590.78 421.5,590.1 C419.27,589.42 416.63,588.97 413.5,587.4 C410.37,585.83 406.3,583.62 402.7,580.7 C399.1,577.78 395.48,573.72 391.9,569.9 C388.32,566.08 384.78,561.17 381.2,557.8 C377.62,554.43 374.22,551.62 370.4,549.7 C366.58,547.78 360.32,546.87 358.3,546.3 Z" fill="#8fc0ea"/>
<path d="M358.3,544.8 C360.32,544.38 366.58,543.73 370.4,542.3 C374.22,540.87 377.62,538.98 381.2,536.2 C384.78,533.42 388.32,529.25 391.9,525.6 C395.48,521.95 399.1,517.57 402.7,514.3 C406.3,511.03 410.37,508.1 413.5,506 C416.63,503.9 419.27,502.73 421.5,501.7 C423.73,500.67 426,500.12 426.9,499.8 L426.9,532.7  C424.22,533.05 415.28,533.9 410.8,534.8 C406.32,535.7 403.6,537.02 400,538.1 C396.4,539.18 393.68,540.32 389.2,541.3 C384.72,542.28 378.25,543.37 373.1,544 C367.95,544.63 360.77,544.92 358.3,545.1 Z" fill="#afba84"/>
<path d="M358.3,545.1 C360.77,544.92 367.95,544.63 373.1,544 C378.25,543.37 384.72,542.28 389.2,541.3 C393.68,540.32 396.4,539.18 400,538.1 C403.6,537.02 406.32,535.7 410.8,534.8 C415.28,533.9 424.22,533.05 426.9,532.7 L426.9,590.6  C426,590.37 423.73,589.88 421.5,589.2 C419.27,588.52 416.63,588.07 413.5,586.5 C410.37,584.93 406.3,582.72 402.7,579.8 C399.1,576.88 395.48,572.82 391.9,569 C388.32,565.18 384.78,560.27 381.2,556.9 C377.62,553.53 374.22,550.72 370.4,548.8 C366.58,546.88 360.32,545.97 358.3,545.4 Z" fill="#a3002b"/>
<line x1="379.8" y1="517.9" x2="392.5" y2="533.2" stroke="#231f20" stroke-width="1.05"/>
<line x1="382.5" y1="571" x2="394.6" y2="562.3" stroke="#231f20" stroke-width="1.05"/>
<text x="345.6" y="515.8" font-size="6.2" fill="#231f20" color="#231f20" textLength="38.2" lengthAdjust="spacingAndGlyphs">NT5C2 H352D</text>
<text x="344.8" y="575.3" font-size="6.2" fill="#231f20" color="#231f20" textLength="36.9" lengthAdjust="spacingAndGlyphs">NT5C2 S408R</text>
<line x1="31.5" y1="593.8" x2="459.5" y2="593.8" stroke="#b3b3b3" stroke-width="0.9"/>
<line x1="97.7" y1="594.1" x2="97.7" y2="598.2" stroke="#7f7f7f" stroke-width="0.8"/>
<text x="98.6" y="602.4" font-size="4.3" fill="#8c8c8c" color="#8c8c8c" style="stroke-width:0.05px" text-anchor="end" transform="rotate(-45 98.6 602.4)">0</text>
<line x1="124.44" y1="594.1" x2="124.44" y2="598.2" stroke="#7f7f7f" stroke-width="0.8"/>
<text x="125.34" y="602.4" font-size="4.3" fill="#8c8c8c" color="#8c8c8c" style="stroke-width:0.05px" text-anchor="end" transform="rotate(-45 125.34 602.4)">29</text>
<line x1="145.65" y1="594.1" x2="145.65" y2="598.2" stroke="#7f7f7f" stroke-width="0.8"/>
<text x="146.55" y="602.4" font-size="4.3" fill="#8c8c8c" color="#8c8c8c" style="stroke-width:0.05px" text-anchor="end" transform="rotate(-45 146.55 602.4)">52</text>
<line x1="176.09" y1="594.1" x2="176.09" y2="598.2" stroke="#7f7f7f" stroke-width="0.8"/>
<text x="176.99" y="602.4" font-size="4.3" fill="#8c8c8c" color="#8c8c8c" style="stroke-width:0.05px" text-anchor="end" transform="rotate(-45 176.99 602.4)">85</text>
<line x1="198.22" y1="594.1" x2="198.22" y2="598.2" stroke="#7f7f7f" stroke-width="0.8"/>
<text x="199.12" y="602.4" font-size="4.3" fill="#8c8c8c" color="#8c8c8c" style="stroke-width:0.05px" text-anchor="end" transform="rotate(-45 199.12 602.4)">109</text>
<line x1="209.29" y1="594.1" x2="209.29" y2="598.2" stroke="#7f7f7f" stroke-width="0.8"/>
<text x="210.19" y="602.4" font-size="4.3" fill="#8c8c8c" color="#8c8c8c" style="stroke-width:0.05px" text-anchor="end" transform="rotate(-45 210.19 602.4)">121</text>
<line x1="248.02" y1="594.1" x2="248.02" y2="598.2" stroke="#7f7f7f" stroke-width="0.8"/>
<text x="248.92" y="602.4" font-size="4.3" fill="#8c8c8c" color="#8c8c8c" style="stroke-width:0.05px" text-anchor="end" transform="rotate(-45 248.92 602.4)">163</text>
<line x1="271.07" y1="594.1" x2="271.07" y2="598.2" stroke="#7f7f7f" stroke-width="0.8"/>
<text x="271.97" y="602.4" font-size="4.3" fill="#8c8c8c" color="#8c8c8c" style="stroke-width:0.05px" text-anchor="end" transform="rotate(-45 271.97 602.4)">188</text>
<line x1="296.9" y1="594.1" x2="296.9" y2="598.2" stroke="#7f7f7f" stroke-width="0.8"/>
<text x="297.8" y="602.4" font-size="4.3" fill="#8c8c8c" color="#8c8c8c" style="stroke-width:0.05px" text-anchor="end" transform="rotate(-45 297.8 602.4)">216</text>
<line x1="354.99" y1="594.1" x2="354.99" y2="598.2" stroke="#7f7f7f" stroke-width="0.8"/>
<text x="355.89" y="602.4" font-size="4.3" fill="#8c8c8c" color="#8c8c8c" style="stroke-width:0.05px" text-anchor="end" transform="rotate(-45 355.89 602.4)">279</text>
<line x1="426" y1="594.1" x2="426" y2="598.2" stroke="#7f7f7f" stroke-width="0.8"/>
<text x="426.9" y="602.4" font-size="4.3" fill="#8c8c8c" color="#8c8c8c" style="stroke-width:0.05px" text-anchor="end" transform="rotate(-45 426.9 602.4)">356</text>
<text x="37.4" y="604.9" font-size="6.05" fill="#231f20" color="#231f20" textLength="48.5" lengthAdjust="spacingAndGlyphs">Days elapsed (seq)</text>
<ellipse cx="53.9" cy="616.7" rx="14.1" ry="2.25" fill="#dddde2"/>
<text x="53.9" y="624.5" font-size="4.9" fill="#231f20" color="#231f20" text-anchor="middle" textLength="24.98" lengthAdjust="spacingAndGlyphs">TCF3–PBX1</text>
<text x="53.9" y="629.9" font-size="4.9" fill="#231f20" color="#231f20" text-anchor="middle" textLength="26.63" lengthAdjust="spacingAndGlyphs">PAX5 G334fs</text>
<ellipse cx="100" cy="616.7" rx="14.1" ry="2.25" fill="#b3b4be"/>
<text x="100" y="624.5" font-size="4.9" fill="#231f20" color="#231f20" text-anchor="middle" textLength="29.93" lengthAdjust="spacingAndGlyphs">KDM4B E105K</text>
<ellipse cx="148.1" cy="616.7" rx="14.1" ry="2.25" fill="#6ba443"/>
<text x="148.1" y="624.5" font-size="4.9" fill="#231f20" color="#231f20" text-anchor="middle" textLength="31.17" lengthAdjust="spacingAndGlyphs">CDKN2A SV #1</text>
<text x="148.1" y="629.9" font-size="4.9" fill="#231f20" color="#231f20" text-anchor="middle" textLength="32.65" lengthAdjust="spacingAndGlyphs">DNAH7 Q1491K</text>
<ellipse cx="198.7" cy="616.7" rx="14.1" ry="2.25" fill="#8b8c99"/>
<text x="198.7" y="624.5" font-size="4.9" fill="#231f20" color="#231f20" text-anchor="middle" textLength="29.93" lengthAdjust="spacingAndGlyphs">RASA2 G307R</text>
<text x="198.7" y="629.9" font-size="4.9" fill="#231f20" color="#231f20" text-anchor="middle" textLength="18.22" lengthAdjust="spacingAndGlyphs">PAX5 SV</text>
<ellipse cx="245.5" cy="616.7" rx="14.1" ry="2.25" fill="#8fc0ea"/>
<text x="245.5" y="624.5" font-size="4.9" fill="#231f20" color="#231f20" text-anchor="middle" textLength="31.17" lengthAdjust="spacingAndGlyphs">CDKN2A SV #2</text>
<text x="245.5" y="629.9" font-size="4.9" fill="#231f20" color="#231f20" text-anchor="middle" textLength="36.28" lengthAdjust="spacingAndGlyphs">PCDHGA7 Y606C</text>
<ellipse cx="295.5" cy="616.7" rx="14.1" ry="2.25" fill="#155283"/>
<text x="295.5" y="624.5" font-size="4.9" fill="#231f20" color="#231f20" text-anchor="middle" textLength="25.97" lengthAdjust="spacingAndGlyphs">TCF3 A212fs</text>
<ellipse cx="372.6" cy="616.7" rx="14.1" ry="2.25" fill="#afba84"/>
<text x="372.6" y="624.5" font-size="4.9" fill="#231f20" color="#231f20" text-anchor="middle" textLength="29.18" lengthAdjust="spacingAndGlyphs">NT5C2 H352D</text>
<ellipse cx="419.9" cy="616.7" rx="14.1" ry="2.25" fill="#a3002b"/>
<text x="419.9" y="624.5" font-size="4.9" fill="#231f20" color="#231f20" text-anchor="middle" textLength="28.94" lengthAdjust="spacingAndGlyphs">NT5C2 S408R</text>
<rect x="0.5" y="0.5" width="519" height="638" fill="none" stroke="#000" stroke-width="1.2"/>
</svg>
</body></html>
